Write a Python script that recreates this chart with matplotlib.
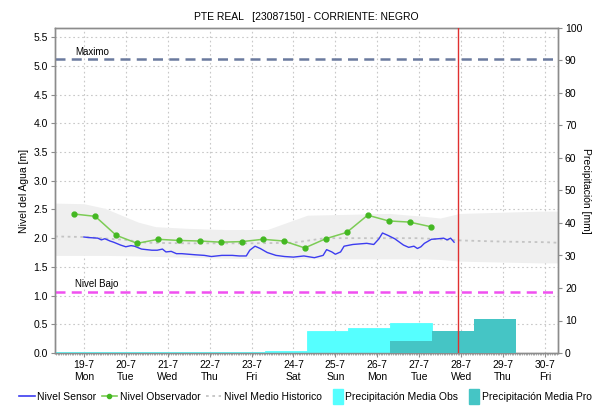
import numpy as np
import matplotlib
matplotlib.use("Agg")
import matplotlib.pyplot as plt
import matplotlib.dates as mdates
from matplotlib.lines import Line2D
from matplotlib.patches import Patch, Rectangle
from matplotlib.legend_handler import HandlerPatch
from datetime import datetime, timedelta

plt.rcParams['font.family'] = ['Liberation Sans', 'DejaVu Sans']

BASE = datetime(2021, 7, 19)

# sensor readings: hours after 19-7 00:00, level [m]
sensor_hours = [0, 3, 8, 10, 12, 15, 17, 21, 24, 27, 29, 33, 36, 39, 42, 45, 47,
                50, 53, 56, 60, 64, 69, 73, 79, 85, 89, 93, 95, 98, 101, 105,
                110, 115, 120, 126, 132, 137, 139, 142, 144, 147, 149, 154,
                158, 162, 166, 169, 171, 174, 178, 183, 186, 189, 191, 193,
                195, 199, 203, 206, 208, 210, 212]
sensor_level = [2.02, 2.01, 2.00, 1.97, 1.99, 1.95, 1.93, 1.88, 1.85, 1.87, 1.86,
                1.81, 1.80, 1.79, 1.79, 1.81, 1.76, 1.77, 1.73, 1.73, 1.72, 1.71,
                1.70, 1.68, 1.70, 1.70, 1.69, 1.69, 1.79, 1.86, 1.82, 1.75,
                1.70, 1.68, 1.67, 1.69, 1.66, 1.70, 1.80, 1.76, 1.72, 1.76,
                1.86, 1.89, 1.90, 1.91, 1.89, 1.99, 2.09, 2.05, 1.99, 1.88,
                1.84, 1.86, 1.82, 1.85, 1.91, 1.98, 1.99, 2.00, 1.97, 2.00, 1.93]

# observer readings
obs_hours = [-5.5, 6.5, 18.5, 30.5, 42.5, 54.5, 66.5, 78.5, 90.5, 102.5, 114.5,
             126.5, 138.5, 150.5, 162.5, 174.5, 186.5, 198.5]
obs_level = [2.42, 2.38, 2.05, 1.91, 1.98, 1.96, 1.95, 1.93, 1.94, 1.98, 1.95,
             1.83, 1.99, 2.10, 2.40, 2.30, 2.28, 2.20]

# historical mean and its envelope
hist_hours = [-16.5, 0, 24, 36, 60, 96, 120, 138, 168, 192, 216, 240, 264, 271.5]
hist_mean = [2.03, 2.02, 1.97, 1.92, 1.91, 1.91, 1.92, 2.00, 2.00, 2.00, 1.96,
             1.94, 1.93, 1.92]
band_hi_hours = [-16.5, 0, 12, 31, 41, 60, 81, 105, 128, 175, 195, 204, 215, 261, 271.5]
band_hi = [2.61, 2.60, 2.52, 2.28, 2.20, 2.17, 2.15, 2.15, 2.40, 2.43, 2.38,
           2.35, 2.43, 2.47, 2.47]
band_lo_hours = [-16.5, 20, 80, 130, 200, 215, 261, 271.5]
band_lo = [1.70, 1.70, 1.65, 1.64, 1.64, 1.60, 1.57, 1.57]

# daily precipitation (07:30 to 07:30), start day of each bar
obs_days = ["17-07", "18-07", "19-07", "20-07", "21-07", "22-07", "23-07",
            "24-07", "25-07", "26-07"]
obs_rain = [18.5, 0.3, 0.4, 0.3, 0.4, 0.4, 0.6, 6.9, 7.6, 9.1]
pro_days = ["26-07", "27-07", "28-07"]
pro_rain = [3.6, 6.7, 10.4]

NIVEL_MAXIMO = 5.12
NIVEL_BAJO = 1.07
now = BASE + timedelta(days=8, hours=22)


def to_dates(hours):
    return [BASE + timedelta(hours=h) for h in hours]


def day_start(s):
    d, m = s.split("-")
    return datetime(2021, int(m), int(d), 7, 30)


def narrow_box(legend, orig_handle, xdescent, ydescent, width, height, fontsize):
    # square swatch pushed to the right end of the handle slot
    w = width * 0.62
    return Rectangle((-xdescent + width - w, -ydescent - 1.5), w, height + 3)


fig = plt.figure(figsize=(5.95, 4.11), dpi=100)
ax = fig.add_axes([55 / 595, 1 - 353 / 411, 503 / 595, 325 / 411])
ax2 = ax.twinx()

x0 = datetime(2021, 7, 18, 7, 28)
x1 = datetime(2021, 7, 30, 7, 30)

grid_kw = dict(color='#c8c8c8', linestyle=(0, (1.5, 2.5)), linewidth=0.8)

# envelope and lines on the level axis
ax.fill_between(to_dates(band_hi_hours), np.interp(band_hi_hours, band_hi_hours, band_hi),
                np.interp(band_hi_hours, band_lo_hours, band_lo),
                color='#efefef', linewidth=0, zorder=1)
ax.grid(True, **grid_kw)
ax.set_axisbelow(True)
ax.plot(to_dates(hist_hours), hist_mean, color='#c4c4c4', linestyle=(0, (1.5, 2)),
        linewidth=1.3, zorder=3)
ax.plot(to_dates(sensor_hours), sensor_level, color='#3c3cf0', linewidth=1.0, zorder=4)
ax.plot(to_dates(obs_hours), obs_level, color='#7ccc55', linewidth=1.1,
        marker='o', markersize=3.5, markerfacecolor='#44b822',
        markeredgecolor='#44b822', zorder=5)

ax.axhline(NIVEL_MAXIMO, color='#6b7a9e', linestyle=(0, (4, 2.5)), linewidth=1.8, zorder=3)
ax.axhline(NIVEL_BAJO, color='#f050f0', linestyle=(0, (4, 2.5)), linewidth=1.8, zorder=3)
ax.text(datetime(2021, 7, 18, 18, 50), NIVEL_MAXIMO + 0.04, "Maximo", fontsize=7,
        va='bottom', ha='left')
ax.text(datetime(2021, 7, 18, 19, 0), NIVEL_BAJO + 0.04, "Nivel Bajo", fontsize=7,
        va='bottom', ha='left')

ax.set_xlim(x0, x1)
ax.set_ylim(0, 5.66)
ax.set_yticks(np.arange(0, 5.51, 0.5))
ax.yaxis.set_major_formatter(plt.FormatStrFormatter('%.1f'))
ax.set_ylabel("Nivel del Agua [m]", fontsize=7.5, labelpad=3)

ax.xaxis.set_major_locator(mdates.DayLocator())
ax.xaxis.set_major_formatter(plt.FuncFormatter(
    lambda v, p: "{0.day}-{0.month}\n{1}".format(mdates.num2date(v),
                                                  mdates.num2date(v).strftime('%a'))))
ax.xaxis.set_minor_locator(mdates.HourLocator(interval=1))

# precipitation bars on the right axis
ax2.bar([day_start(d) for d in obs_days], obs_rain, width=1.0, align='edge',
        color='#55ffff', edgecolor='#55ffff', linewidth=0.6, zorder=2)
ax2.bar([day_start(d) for d in pro_days], pro_rain, width=1.0, align='edge',
        color='#45c5c5', linewidth=0, zorder=3)
ax2.axvline(now, color='#e03030', linewidth=1.0, zorder=6)
ax2.set_xlim(x0, x1)
ax2.set_ylim(0, 100)
ax2.set_yticks(np.arange(0, 101, 10))
ax2.set_ylabel("Precipitación [mm]", fontsize=7.5, rotation=270, labelpad=6)

for a in (ax, ax2):
    for s in a.spines.values():
        s.set_color('#8c8c8c')
        s.set_linewidth(1.0)
    a.tick_params(which='major', labelsize=7.5, length=3, color='#8c8c8c', pad=2)
    a.tick_params(which='minor', length=1.5, color='#8c8c8c', width=0.5)

ax.set_title("PTE REAL   [23087150] - CORRIENTE: NEGRO", fontsize=7.5, pad=6)

handles = [
    Line2D([], [], color='#3c3cf0', linewidth=1.2),
    Line2D([], [], color='#7ccc55', linewidth=1.2, marker='o', markersize=3,
           markerfacecolor='#44b822', markeredgecolor='#44b822'),
    Line2D([], [], color='#c4c4c4', linestyle=(0, (1.5, 2)), linewidth=1.3),
    Patch(color='#55ffff'),
    Patch(color='#45c5c5'),
]
labels = ["Nivel Sensor", "Nivel Observador", "Nivel Medio Historico",
          "Precipitación Media Obs", "Precipitación Media Pro"]
fig.legend(handles, labels, loc='center', bbox_to_anchor=(0.513, 14 / 411), ncol=5,
           frameon=False, fontsize=7.5, handlelength=1.5, handletextpad=0.25,
           columnspacing=0.5, handleheight=1.2, borderpad=0.1,
           handler_map={Patch: HandlerPatch(patch_func=narrow_box)})

fig.savefig("out.png", dpi=100)
